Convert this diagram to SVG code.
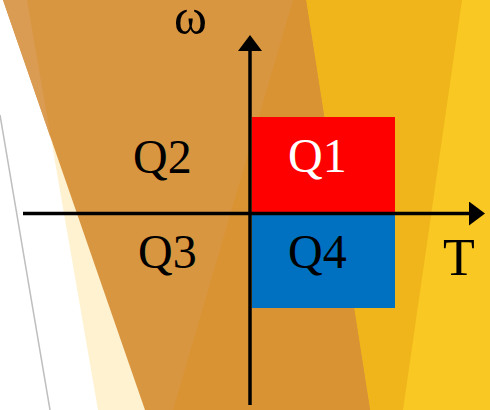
<svg xmlns="http://www.w3.org/2000/svg" width="490" height="410" viewBox="0 0 490 410">
<style>
.lbl{font-family:"Liberation Serif","Times New Roman",serif;font-size:48px;fill:#000}
.wht{fill:#fff}
.axis{stroke:#000;stroke-width:3.5;fill:none}
</style>
<defs>
<marker id="arr" viewBox="0 0 16 24" refX="0" refY="12" markerWidth="16" markerHeight="24" markerUnits="userSpaceOnUse" orient="auto">
<path d="M0,0 L16,12 L0,24 Z" fill="#000"/>
</marker>
</defs>
<g id="background">
<rect x="0" y="0" width="490" height="410" fill="#fff"/>
<polygon points="27,0 320,0 320,410 98,410" fill="#FEF2D0"/>
<polygon points="380,0 490,0 490,410 360,410" fill="#F9C823"/>
<polygon points="293,0 462,0 403,410 173,410" fill="#F0B51A"/>
<polygon points="3,0 306,0 370,410 145,410" fill="#D99641"/>
<polygon points="3,0 27,0 51,139" fill="#DA9B52"/>
<polygon points="293,0 306,0 370,410 173,410" fill="#DA9333"/>
<line x1="0" y1="115" x2="50" y2="410" stroke="#BFBFBF" stroke-width="1.5"/>
</g>
<g id="q1"><rect x="252" y="117" width="143" height="96" fill="#FF0000"/><text class="lbl wht" x="288" y="172">Q1</text></g>
<g id="q4"><rect x="252" y="213" width="143" height="95" fill="#0070C0"/><text class="lbl" x="288" y="268">Q4</text></g>
<g id="q2"><text class="lbl" x="133" y="173">Q2</text></g>
<g id="q3"><text class="lbl" x="138" y="268">Q3</text></g>
<g id="connectors">
<line class="axis" x1="250" y1="405" x2="250" y2="51" marker-end="url(#arr)"/>
<line class="axis" x1="23" y1="213.5" x2="469" y2="213.5" marker-end="url(#arr)"/>
</g>
<g id="omega"><text class="lbl" x="174" y="34" style="font-size:50px">ω</text></g>
<g id="t"><text class="lbl" x="443" y="275" style="font-size:52px">T</text></g>
</svg>
